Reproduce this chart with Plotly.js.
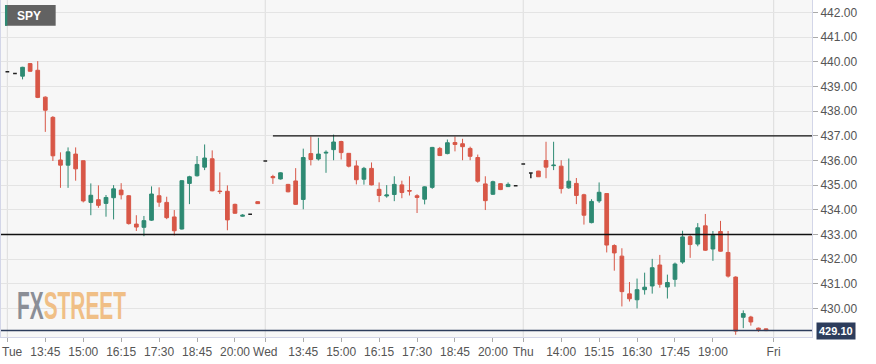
<!DOCTYPE html>
<html>
<head>
<meta charset="utf-8">
<script src="https://cdn.plot.ly/plotly-3.0.1.min.js"></script>
<style>
html,body{margin:0;padding:0;background:#fff;}
#chart{width:876px;height:364px;}
</style>
</head>
<body>
<div id="chart"></div>
<script>
// 15-minute SPY bars, Tue -> Thu (index = bar position)
const openP = [439.60,439.53,439.42,439.93,439.66,438.57,437.75,436.02,435.81,436.26,
435.99,434.30,434.41,434.26,434.49,434.80,434.57,433.42,433.29,433.58,
434.57,434.30,433.71,433.22,435.07,435.38,435.73,436.07,434.76,434.75,
434.22,433.74,433.82,434.33,435.98,435.35,435.25,435.03,435.17,434.42,
436.28,436.06,436.30,436.44,436.77,436.29,435.78,435.24,435.68,434.83,
434.56,434.62,435.01,434.78,434.57,434.43,434.91,436.49,436.28,436.73,
436.68,436.49,436.12,435.05,434.63,435.06,434.94,434.98,435.86,435.49,
435.57,436.00,435.79,435.77,434.89,435.07,434.61,433.48,434.36,434.66,
432.55,432.12,430.59,430.35,430.76,430.91,431.76,430.87,431.18,431.88,
432.91,432.61,433.35,432.41,433.12,432.27,431.27,429.64,429.65,429.20,
429.17];
const highP = [439.60,439.53,439.80,439.95,440.03,438.60,437.80,436.33,436.53,436.53,
436.00,435.07,434.99,434.60,435.00,435.08,434.60,433.78,433.75,434.95,
434.91,434.53,433.99,435.20,435.38,436.18,436.65,436.41,435.52,434.99,
434.25,433.82,433.82,434.34,435.98,435.42,435.52,435.05,435.69,436.48,
436.97,436.92,436.41,437.05,436.80,436.30,436.00,435.74,435.92,435.11,
435.00,435.36,435.18,435.36,434.63,434.95,436.55,436.55,436.85,436.97,
436.88,436.56,436.24,435.36,435.18,435.08,435.11,434.98,435.86,435.49,
435.58,436.76,436.76,436.01,436.08,435.29,434.65,434.43,435.11,434.68,
432.60,432.44,431.07,431.21,431.45,432.01,432.17,431.37,431.86,433.15,
432.97,433.46,433.83,433.14,433.55,433.14,431.30,429.92,429.70,429.22,
429.18];
const lowP = [439.60,439.53,439.29,439.60,438.53,437.16,435.98,434.89,434.89,435.18,
434.30,433.78,434.08,433.72,433.61,434.42,433.40,433.14,432.93,433.55,
434.12,433.62,432.96,433.20,434.23,435.35,435.61,434.75,434.64,433.17,
433.84,433.72,433.82,434.24,435.98,435.05,435.23,434.71,434.20,434.02,
435.80,436.00,435.50,436.01,436.04,435.72,435.03,435.02,434.99,434.31,
434.49,434.35,434.47,434.58,433.87,434.22,434.85,436.18,436.25,436.37,
436.01,436.01,435.10,433.99,434.60,434.80,434.93,434.98,435.86,435.28,
435.33,435.28,435.61,434.66,434.85,434.23,433.40,433.45,434.28,432.27,
431.53,430.08,430.28,430.00,430.56,430.60,430.84,430.40,430.88,431.81,
432.05,432.52,432.33,431.93,432.30,431.25,428.93,429.20,429.30,429.05,
429.08];
const closeP = [439.60,439.53,439.78,439.62,438.56,438.04,436.19,435.81,436.35,435.66,
434.36,434.59,434.18,434.50,434.85,434.61,433.44,433.30,433.56,434.64,
434.31,433.68,433.15,435.18,435.34,435.84,436.10,434.77,434.74,433.59,
433.86,433.78,433.82,434.25,435.98,435.30,435.50,434.73,434.22,436.12,
436.04,436.26,436.33,436.75,436.32,435.77,435.22,435.68,435.01,434.58,
434.60,435.03,434.70,434.76,434.50,434.93,436.53,436.20,436.72,436.65,
436.56,436.17,435.16,434.37,435.14,434.82,435.03,434.98,435.86,435.49,
435.34,435.73,435.81,434.86,435.16,434.58,433.78,434.34,434.71,432.57,
432.25,430.68,430.39,430.76,430.86,431.65,430.98,431.05,431.80,432.90,
432.59,433.27,432.36,432.96,432.32,431.31,429.08,429.79,429.45,429.14,
429.10];

const tickIdx  = [0,5,10,15,20,25,30,34,39,44,49,54,59,64,68,73,78,83,88,93,101];
const tickText = ['Tue','13:45','15:00','16:15','17:30','18:45','20:00',
                  'Wed','13:45','15:00','16:15','17:30','18:45','20:00',
                  'Thu','14:00','15:15','16:30','17:45','19:00','Fri'];
const dayIdx = [0,34,68,101];
const levelPrice = [437, 433];
const levelFrom  = [35, null];
const symbol = 'SPY';

const xRange = [-0.84, 106.06];
const yRange = [428.84, 442.51];

const GREEN = '#2e8a73', RED = '#d85747';
const xs = openP.map((_, i) => i);
const norm = xs.filter(i => openP[i] !== closeP[i]);
const flat = xs.filter(i => openP[i] === closeP[i]);
const pick = (arr, idx) => idx.map(i => arr[i]);

const traces = [
  {
    type: 'candlestick',
    x: norm, open: pick(openP, norm), high: pick(highP, norm),
    low: pick(lowP, norm), close: pick(closeP, norm),
    increasing: {line: {color: GREEN, width: 1}, fillcolor: GREEN},
    decreasing: {line: {color: RED, width: 1}, fillcolor: RED},
    hoverinfo: 'skip', showlegend: false
  },
  {
    type: 'candlestick',
    x: flat, open: pick(openP, flat), high: pick(highP, flat),
    low: pick(lowP, flat), close: pick(closeP, flat),
    increasing: {line: {color: '#222', width: 1.5}, fillcolor: '#222'},
    decreasing: {line: {color: '#222', width: 1.5}, fillcolor: '#222'},
    hoverinfo: 'skip', showlegend: false
  }
];

const shapes = [];
dayIdx.forEach(d => shapes.push({type: 'line', xref: 'x', yref: 'paper', x0: d, x1: d, y0: 0, y1: 1,
  line: {color: '#e1e1e1', width: 1.2}, layer: 'below'}));
levelPrice.forEach((p, k) => shapes.push({type: 'line', xref: 'x', yref: 'y',
  x0: levelFrom[k] === null ? xRange[0] : levelFrom[k], x1: xRange[1], y0: p, y1: p,
  line: {color: '#111', width: 1.4}, layer: 'above'}));
const last = closeP[closeP.length - 1];
shapes.push({type: 'line', xref: 'paper', yref: 'y', x0: 0, x1: 1, y0: last, y1: last,
  line: {color: '#2d3d5c', width: 1.5}, layer: 'above'});
// symbol badge
shapes.push({type: 'rect', xref: 'paper', yref: 'paper', x0: 0.0049, x1: 0.0674, y0: 0.9237, y1: 0.985,
  fillcolor: '#626262', line: {width: 0}, layer: 'above'});
shapes.push({type: 'rect', xref: 'paper', yref: 'paper', x0: 0.0049, x1: 0.0078, y0: 0.9237, y1: 0.985,
  fillcolor: '#2e8a73', line: {width: 0}, layer: 'above'});

const axisFont = {family: 'Liberation Sans, Arial, sans-serif', size: 12, color: '#555'};
// first day label drawn left-aligned so it is not cut at the page edge
const shownTickText = tickText.map((t, k) => k === 0 ? '' : t);

const annotations = [
  {xref: 'paper', yref: 'paper', x: 0.0345, y: 0.954, xanchor: 'center', yanchor: 'middle',
   text: symbol, showarrow: false,
   font: {family: 'Liberation Sans, Arial, sans-serif', size: 12, color: '#ffffff', weight: 'bold'}},
  {xref: 'paper', yref: 'paper', x: 0.017, y: 0.045, xanchor: 'left', yanchor: 'bottom', yshift: -5,
   text: '<span style="color:#8b8e96">FX</span><span style="color:#f0bf86">STREET</span>',
   showarrow: false, name: 'wm',
   font: {family: 'Liberation Sans Narrow, Arial Narrow, sans-serif', size: 30, weight: 'bold'}},
  {xref: 'paper', yref: 'y', x: 1, y: last, xanchor: 'left', yanchor: 'middle', xshift: 4,
   text: '<b>' + last.toFixed(2) + '</b>', showarrow: false, bgcolor: '#2d3d5c', borderpad: 2,
   font: {family: 'Liberation Sans, Arial, sans-serif', size: 11, color: '#ffffff'}},
  {xref: 'paper', yref: 'paper', x: 0, y: 0, xanchor: 'left', yanchor: 'top', yshift: -6, xshift: -1,
   text: tickText[0], showarrow: false, font: axisFont}
];

const layout = {
  width: 876, height: 364,
  margin: {l: 1, r: 64, t: 0, b: 27, pad: 0},
  paper_bgcolor: '#ffffff', plot_bgcolor: '#f7f7f7',
  showlegend: false, hovermode: false,
  xaxis: {
    range: xRange, rangeslider: {visible: false}, showgrid: false, zeroline: false,
    tickmode: 'array', tickvals: tickIdx, ticktext: shownTickText,
    ticks: 'outside', ticklen: 4, tickcolor: '#aaa',
    showline: true, mirror: true, linecolor: '#d3d6e8', linewidth: 1,
    tickfont: axisFont
  },
  yaxis: {
    range: yRange, side: 'right', zeroline: false,
    tickmode: 'array', tickvals: [430,431,432,433,434,435,436,437,438,439,440,441,442],
    tickformat: '.2f', ticks: 'outside', ticklen: 5, tickcolor: '#aaa',
    gridcolor: '#e4e4e4', gridwidth: 1,
    showline: true, mirror: true, linecolor: '#d3d6e8', linewidth: 1,
    tickfont: axisFont
  },
  shapes: shapes,
  annotations: annotations
};

Plotly.newPlot('chart', traces, layout, {displayModeBar: false, staticPlot: true}).then(gd => {
  // squeeze the watermark into a tall condensed logo shape
  const ann = gd.querySelectorAll('.annotation')[1];
  if (!ann) return;
  const txt = ann.querySelector('text');
  if (!txt) return;
  const bb = txt.getBBox();
  const targetW = 109, sx = targetW / bb.width, sy = 1.3;
  const ax = bb.x, ay = bb.y + bb.height * 0.8;
  txt.setAttribute('transform',
    'translate(' + ax + ',' + ay + ') scale(' + sx + ',' + sy + ') translate(' + (-ax) + ',' + (-ay) + ')');
});
</script>
</body>
</html>
